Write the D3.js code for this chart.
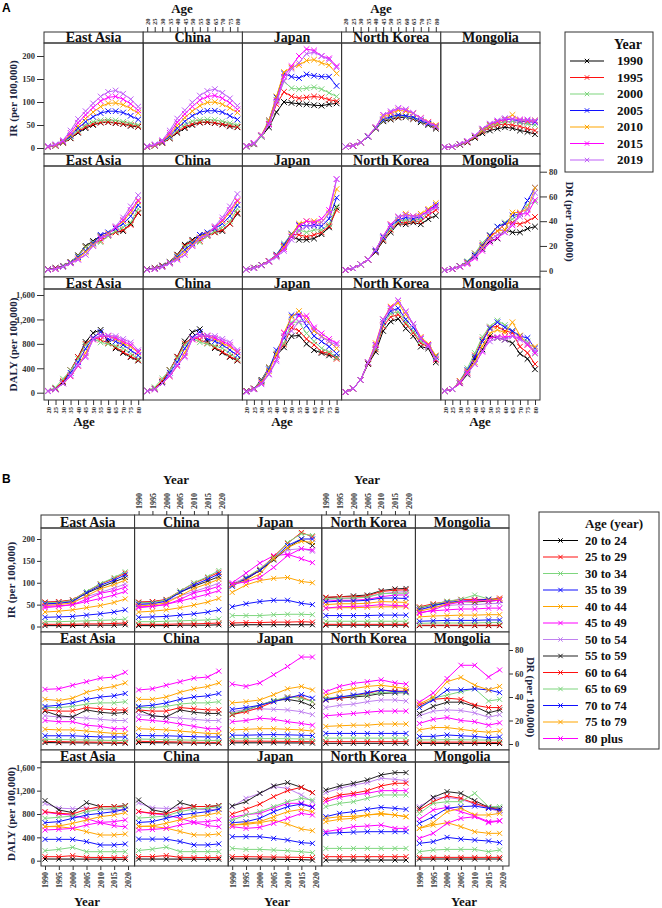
<!DOCTYPE html>
<html><head><meta charset="utf-8">
<script src="https://cdn.jsdelivr.net/npm/d3@7"></script>
<style>body{margin:0;background:#fff}svg{display:block}</style>
</head><body><svg id="c" width="662" height="908"></svg>
<script>
const locations = ["East Asia","China","Japan","North Korea","Mongolia"];
const years = [1990,1995,2000,2005,2010,2015,2019];
const ageGroups = ["20 to 24","25 to 29","30 to 34","35 to 39","40 to 44","45 to 49","50 to 54","55 to 59","60 to 64","65 to 69","70 to 74","75 to 79","80 plus"];
const ageTickLabels = ["20","25","30","35","40","45","50","55","60","65","70","75","80"];
const yearTicks = [1990,1995,2000,2005,2010,2015,2020];
const yearColors = ["#000000","#ff1010","#7ed67e","#1010ff","#ffa500","#ff00ff","#c060f8"];
const ageColors = ["#000000","#ff1010","#7ed67e","#1010ff","#ffa500","#ff00ff","#c080f0","#222222","#ff1010","#7ed67e","#1010ff","#ffa500","#ff00ff"];
const irTicks = [0,50,100,150,200];
const drTicks = [0,20,40,60,80];
const dalyTicks = [0,400,800,1200,1600];

// values: rows = years (1990..2019), columns = age groups (20-24 .. 80+)
const IR_EA = [
[2,5,11,21,33,43,50,55,56,54,52,48,46],
[2,5,11,22,35,46,52,56,57,55,53,50,47],
[2,5,12,23,38,50,57,60,61,60,57,54,50],
[3,6,13,26,43,57,68,76,80,80,77,70,62],
[3,6,14,29,48,64,78,90,97,98,94,86,76],
[3,7,15,33,55,72,88,102,110,112,106,96,82],
[4,8,17,38,63,80,97,112,122,125,118,106,90]];
const IR_CN = [
[2,5,11,21,33,43,50,55,56,54,51,47,45],
[2,5,11,22,35,46,52,56,57,55,52,49,46],
[2,5,12,23,38,51,58,61,62,61,58,54,50],
[3,6,13,26,43,58,70,78,81,81,78,70,62],
[3,6,14,29,49,66,80,92,99,100,95,87,77],
[3,7,15,33,56,74,90,104,112,114,108,98,84],
[4,8,17,38,64,82,99,114,124,128,120,108,92]];
const IR_JP = [
[3,8,25,45,78,100,98,96,95,93,92,95,97],
[4,9,25,52,95,122,112,108,110,112,110,105,102],
[4,9,25,57,105,145,130,128,130,132,128,120,112],
[4,10,27,60,110,162,155,152,160,157,155,155,135],
[4,10,28,60,112,165,175,180,190,192,185,180,162],
[4,11,28,53,103,155,178,200,215,212,200,195,178],
[4,10,27,50,100,146,172,185,205,208,200,192,175]];
const IR_KP = [
[3,5,12,25,42,58,62,66,67,63,56,50,42],
[3,5,12,25,43,60,64,68,68,64,58,52,45],
[3,5,12,25,43,60,65,70,68,65,58,52,46],
[3,5,12,25,44,62,68,72,70,67,60,53,47],
[3,5,12,26,45,68,75,82,80,75,65,57,50],
[3,5,12,26,45,72,78,86,83,76,65,56,48],
[3,5,12,26,45,72,80,87,84,76,64,55,47]];
const IR_MN = [
[2,3,7,12,22,32,38,42,45,43,38,35,30],
[2,3,8,13,24,36,45,50,52,50,47,42,38],
[2,3,8,14,25,38,48,53,57,58,55,52,50],
[2,3,8,14,26,40,50,57,62,62,58,57,56],
[2,3,8,14,26,40,50,56,62,72,60,58,60],
[2,3,9,15,27,42,52,58,62,63,62,60,58],
[2,3,9,15,27,42,53,60,65,62,60,62,60]];

const DR_EA = [
[1.2,2.2,4,7,12.5,20,24,28,29,31,32,38,46.5],
[1.1,2.0,3.8,7,12,19,23,24,28,31,33,37,47],
[1.0,1.8,3.6,7,12,19,23,23,28,32,35,39,50],
[0.9,1.7,3.4,6.5,11,16,22,29,31,34,38,44,53],
[0.8,1.5,3.2,6,10,15,21,27,30,35,40,47,56],
[0.7,1.4,3.0,6,9,13,20,26,29,35,41,49,57],
[0.7,1.4,3.0,6,9,13,20,27,29,36,43,52,61]];
const DR_CN = [
[1.2,2.3,4.2,7.2,13,21,25,29,29,31,32,38,46],
[1.1,2.1,4.0,7.1,12.5,20,24,24,28,31,33,38,47],
[1.0,1.9,3.7,7,12,19,23,23,28,32,35,40,50],
[0.9,1.7,3.5,6.6,11,17,22,29,31,34,38,44,53],
[0.8,1.5,3.2,6.2,10,15,21,27,30,35,40,47,56],
[0.7,1.4,3.0,6,9,13,20,26,29,35,41,49,57],
[0.7,1.4,3.0,6,9,13,20,26,29,36,43,52,62]];
const DR_JP = [
[1.0,2.5,4.5,7.5,12,19,27.5,25,25,26,29.5,35,51],
[1.0,2.4,4.5,7.5,12.5,20,29.5,29,27.5,29,31,36,49],
[1.0,2.4,4.6,7.8,13,22,30,33,31,33,33,37.5,52],
[1.0,2.3,4.6,8,13,21,29.5,37,36,37,36,42,59],
[0.9,2.2,4.5,7.8,12.5,19,29,38,40,40,39,47,66],
[0.9,2.1,4.3,7.5,12,17.5,27.5,36,40,39,42,49,74],
[0.8,2.0,4.2,7.2,11,16,25,32,36,36,39,46,74]];
const DR_KP = [
[0.6,2,5,9,15,24,31,38,37.5,39,37.5,41.7,44.5],
[0.6,2,5,9,15.5,25,33,39,39,40,40,45,49],
[0.6,2,5,9,16,26,34,40,41,41,41.7,47,51.6],
[0.6,2,5,9,16,27,36,41,43,42,43.7,49,53],
[0.6,2,5,9,17,28,37.5,43,46,44,46,50,54.6],
[0.6,2,5,9,17,28,37.5,43.5,45,44,44.5,48.5,52],
[0.6,2,5,9,17,28,36.6,43.7,45,43.7,44.5,47,51]];
const DR_MN = [
[0.5,1.5,3.5,6.5,12,17.5,24,26,33,31,31,34,35.6],
[0.5,1.5,3.5,6.5,14,21,28,32,38,39,37.5,40,43.4],
[0.5,1.6,3.7,7.7,14,22.5,29,35.6,39,41.7,46,53,55.7],
[0.5,1.6,3.6,7,12.5,20,28.5,35.6,38,44.5,46,56.7,67],
[0.5,1.5,3.5,6.5,11,19,26.5,32,33,47,47,50,67],
[0.4,1.4,3.3,5.4,10,16,22.7,26.5,31,36.6,46,46,57],
[0.4,1.4,3.3,6,11,18,25,29,31,38,43.7,49,63]];

const DALY_EA = [
[29,69,171,366,583,830,980,1029,840,726,651,583,526],
[28,69,194,366,583,800,900,869,811,743,669,594,537],
[28,86,229,366,554,780,890,823,800,766,726,640,554],
[27,57,154,326,497,720,900,994,880,840,783,697,611],
[26,55,154,269,440,650,880,926,926,880,811,754,657],
[25,54,154,269,440,600,870,926,926,897,840,783,669],
[25,54,154,286,457,580,880,943,937,926,880,823,697]];
const DALY_CN = [
[29,70,175,370,590,840,990,1040,845,730,655,585,525],
[28,70,198,370,588,805,905,870,812,745,670,595,535],
[28,88,233,370,558,785,895,825,800,768,728,642,555],
[27,57,155,328,500,725,905,995,880,842,785,700,612],
[26,55,155,270,442,655,885,928,928,882,812,756,658],
[25,54,155,270,440,600,872,928,928,898,842,785,670],
[25,54,155,288,460,582,885,945,940,928,882,825,700]];
const DALY_JP = [
[30,69,211,411,611,743,926,937,800,697,651,611,583],
[30,69,194,411,623,790,1069,1011,880,783,669,640,554],
[28,66,194,411,651,811,1154,1154,971,840,726,669,571],
[25,63,183,383,697,897,1269,1280,1097,926,840,754,640],
[22,60,171,354,629,983,1240,1337,1200,1011,926,840,726],
[18,57,154,309,543,983,1126,1257,1257,1069,971,880,811],
[11,54,137,297,514,926,1011,1166,1166,1040,914,840,783]];
const DALY_KP = [
[11,69,211,469,669,1011,1166,1211,1051,926,754,726,497],
[11,69,211,480,709,1086,1240,1280,1126,983,811,754,537],
[11,69,211,490,726,1126,1297,1326,1154,1011,840,760,583],
[11,69,211,497,783,1154,1337,1383,1200,1069,880,783,594],
[11,69,211,497,811,1200,1411,1469,1280,1126,914,800,611],
[11,69,211,497,783,1200,1394,1509,1326,1126,897,783,554],
[11,69,211,497,754,1200,1371,1509,1326,1126,880,754,554]];
const DALY_MN = [
[29,57,154,297,554,709,926,897,869,811,640,554,383],
[29,57,183,326,611,869,1069,1086,1011,983,754,651,469],
[29,57,194,400,651,914,1086,1183,1109,1011,897,840,640],
[29,57,194,371,583,840,1051,1154,1069,1011,926,897,726],
[29,57,194,354,497,766,971,1029,983,1154,937,783,754],
[29,57,154,337,469,669,897,914,914,926,897,783,651],
[29,57,183,309,469,686,840,897,869,926,869,811,680]];

const SERIF = "'Liberation Serif','Times New Roman',serif";
const svg = d3.select("#c");
const metrics = [
  {data:[IR_EA,IR_CN,IR_JP,IR_KP,IR_MN], ticks:irTicks, title:"IR (per 100,000)", side:"left"},
  {data:[DR_EA,DR_CN,DR_JP,DR_KP,DR_MN], ticks:drTicks, title:"DR (per 100,000)", side:"right"},
  {data:[DALY_EA,DALY_CN,DALY_JP,DALY_KP,DALY_MN], ticks:dalyTicks, title:"DALY (per 100,000)", side:"left"}
];
const markerPath = s => `M${-s},${-s}L${s},${s}M${-s},${s}L${s},${-s}`;

function styleAxis(g, fs){
  g.select(".domain").remove();
  g.selectAll(".tick line").attr("stroke","#333");
  g.selectAll(".tick text").attr("font-family",SERIF).attr("font-weight","bold").attr("font-size",fs).attr("fill","#333");
}

function drawBlock(cfg){
  const G = svg.append("g");
  const xs = d3.range(6).map(i => cfg.x0 + i*cfg.w);
  cfg.rows.forEach((r, ri) => {
    const m = metrics[ri];
    const y = d3.scaleLinear().domain([0, m.ticks[m.ticks.length-1]]).range([r.yLo, r.yHi]);
    locations.forEach((loc, ci) => {
      const px0 = xs[ci], px1 = xs[ci+1];
      const x = cfg.mode === "age"
        ? d3.scalePoint().domain(ageGroups).range([px0+cfg.xPad0, px1-cfg.xPad1])
        : d3.scaleLinear().domain([1990,2020]).range([px0+cfg.xPad0, px1-cfg.xPad1]);
      G.append("rect").attr("x",px0).attr("y",r.stripTop).attr("width",cfg.w).attr("height",r.panelTop-r.stripTop)
        .attr("fill","#fff").attr("stroke","#333").attr("stroke-width",1);
      G.append("text").attr("x",(px0+px1)/2).attr("y",r.panelTop-1.5).attr("text-anchor","middle")
        .attr("font-family",SERIF).attr("font-weight","bold").attr("font-size",cfg.stripFs).attr("fill","#111").text(loc);
      G.append("rect").attr("x",px0).attr("y",r.panelTop).attr("width",cfg.w).attr("height",r.panelBot-r.panelTop)
        .attr("fill","none").attr("stroke","#333").attr("stroke-width",1);
      const tbl = m.data[ci];
      let series;
      if (cfg.mode === "age") {
        series = years.map((yr, yi) => ({color: yearColors[yi], pts: ageGroups.map((a, ai) => [x(a), y(tbl[yi][ai])])}));
      } else {
        series = ageGroups.map((a, ai) => ({color: ageColors[ai], pts: years.map((yr, yi) => [x(yr), y(tbl[yi][ai])])}));
      }
      const line = d3.line();
      series.forEach(s => {
        G.append("path").attr("d", line(s.pts)).attr("fill","none").attr("stroke",s.color).attr("stroke-width",1);
        G.append("g").selectAll("path").data(s.pts).join("path")
          .attr("transform", p => `translate(${p[0]},${p[1]})`).attr("d", markerPath(cfg.ms))
          .attr("stroke", s.color).attr("stroke-width",1).attr("fill","none");
      });
      const fmt = cfg.mode === "age" ? ((d,i)=>ageTickLabels[i]) : d3.format("d");
      if (ri === 2 && ci % 2 === 0) {
        const ax = G.append("g").attr("transform",`translate(0,${r.panelBot})`)
          .call(d3.axisBottom(x).tickValues(cfg.mode==="age"?ageGroups:yearTicks).tickFormat(fmt).tickSize(cfg.xTick).tickPadding(2));
        styleAxis(ax, cfg.xFs);
        ax.selectAll(".tick text").attr("transform","rotate(-90)").attr("x",-(cfg.xTick+2)).attr("y",0).attr("dy","0.35em").attr("text-anchor","end");
      }
      if (ri === 0 && ci % 2 === 1) {
        const ax = G.append("g").attr("transform",`translate(0,${r.stripTop})`)
          .call(d3.axisTop(x).tickValues(cfg.mode==="age"?ageGroups:yearTicks).tickFormat(fmt).tickSize(cfg.xTick).tickPadding(2));
        styleAxis(ax, cfg.xFs);
        ax.selectAll(".tick text").attr("transform","rotate(-90)").attr("x",cfg.xTick+2).attr("y",0).attr("dy","0.35em").attr("text-anchor","start");
      }
    });
    if (m.side === "left") {
      const ax = G.append("g").attr("transform",`translate(${xs[0]},0)`)
        .call(d3.axisLeft(y).tickValues(m.ticks).tickSize(cfg.yTick).tickPadding(2));
      styleAxis(ax, cfg.yFs);
      G.append("text").attr("transform",`translate(${cfg.yTitleX},${(r.panelTop+r.panelBot)/2}) rotate(-90)`)
        .attr("text-anchor","middle").attr("font-family",SERIF).attr("font-weight","bold").attr("font-size",11)
        .attr("fill","#1c2540").text(m.title);
    } else {
      const ax = G.append("g").attr("transform",`translate(${xs[5]},0)`)
        .call(d3.axisRight(y).tickValues(m.ticks).tickSize(cfg.yTick).tickPadding(2));
      styleAxis(ax, cfg.yFs);
      G.append("text").attr("transform",`translate(${cfg.drTitleX},${(r.panelTop+r.panelBot)/2}) rotate(90)`)
        .attr("text-anchor","middle").attr("font-family",SERIF).attr("font-weight","bold").attr("font-size",11)
        .attr("fill","#1c2540").text(m.title);
    }
  });
  cfg.botTitles.forEach(t => G.append("text").attr("x",t).attr("y",cfg.botTitleY).attr("text-anchor","middle")
    .attr("font-family",SERIF).attr("font-weight","bold").attr("font-size",13).attr("fill","#111").text(cfg.xTitle));
  cfg.topTitles.forEach(t => G.append("text").attr("x",t).attr("y",cfg.topTitleY).attr("text-anchor","middle")
    .attr("font-family",SERIF).attr("font-weight","bold").attr("font-size",13).attr("fill","#111").text(cfg.xTitle));
  const L = cfg.legend;
  G.append("rect").attr("x",L.x).attr("y",L.y).attr("width",L.w).attr("height",L.h).attr("fill","#fff").attr("stroke","#333");
  G.append("text").attr("x",L.titleX).attr("y",L.titleY).attr("text-anchor",L.titleAnchor)
    .attr("font-family",SERIF).attr("font-weight","bold").attr("font-size",L.titleFs).attr("fill","#111").text(L.title);
  L.labels.forEach((lab, i) => {
    const cy = L.firstY + i*L.step;
    G.append("line").attr("x1",L.lx0).attr("x2",L.lx1).attr("y1",cy).attr("y2",cy).attr("stroke",L.colors[i]).attr("stroke-width",1.2);
    G.append("path").attr("transform",`translate(${(L.lx0+L.lx1)/2},${cy})`).attr("d",markerPath(2.2)).attr("stroke",L.colors[i]).attr("fill","none");
    G.append("text").attr("x",L.tx).attr("y",cy+4).attr("font-family",SERIF).attr("font-weight","bold").attr("font-size",L.fs).attr("fill","#111").text(lab);
  });
}

drawBlock({
  mode:"age", x0:44, w:99.2, xPad0:4, xPad1:5, stripFs:14, ms:2.8, xTick:5, xFs:6.5, yTick:7, yFs:8.5,
  yTitleX:17, drTitleX:566,
  rows:[
    {stripTop:32, panelTop:43, panelBot:154, yLo:148, yHi:56},
    {stripTop:154, panelTop:166, panelBot:277, yLo:270.7, yHi:171.7},
    {stripTop:277, panelTop:289, panelBot:400, yLo:392.7, yHi:295}
  ],
  xTitle:"Age", botTitles:[84,282,480], botTitleY:426, topTitles:[182,381], topTitleY:13,
  legend:{x:565,y:32,w:88,h:140,title:"Year",titleX:628,titleY:49,titleAnchor:"middle",titleFs:14,
    labels:years.map(String), colors:yearColors, firstY:61, step:16.5, lx0:570, lx1:604, tx:617, fs:13}
});

drawBlock({
  mode:"year", x0:41, w:93.6, xPad0:4, xPad1:6.6, stripFs:14, ms:2.5, xTick:4, xFs:8, yTick:4, yFs:8.5,
  yTitleX:15, drTitleX:527,
  rows:[
    {stripTop:515, panelTop:528, panelBot:632, yLo:626.5, yHi:539},
    {stripTop:632, panelTop:644, panelBot:750, yLo:744, yHi:650},
    {stripTop:750, panelTop:762, panelBot:866, yLo:860.7, yHi:767.3}
  ],
  xTitle:"Year", botTitles:[87,277,464], botTitleY:906, topTitles:[176,367], topTitleY:484,
  legend:{x:539,y:512,w:120,h:237,title:"Age (year)",titleX:585,titleY:528,titleAnchor:"start",titleFs:13,
    labels:ageGroups, colors:ageColors, firstY:540.5, step:16.5, lx0:543, lx1:578, tx:585, fs:12.5}
});

svg.append("text").attr("x",2).attr("y",12).attr("font-family","'Liberation Sans',Arial,sans-serif").attr("font-weight","bold").attr("font-size",12).text("A");
svg.append("text").attr("x",2).attr("y",483).attr("font-family","'Liberation Sans',Arial,sans-serif").attr("font-weight","bold").attr("font-size",12).text("B");
</script></body></html>
